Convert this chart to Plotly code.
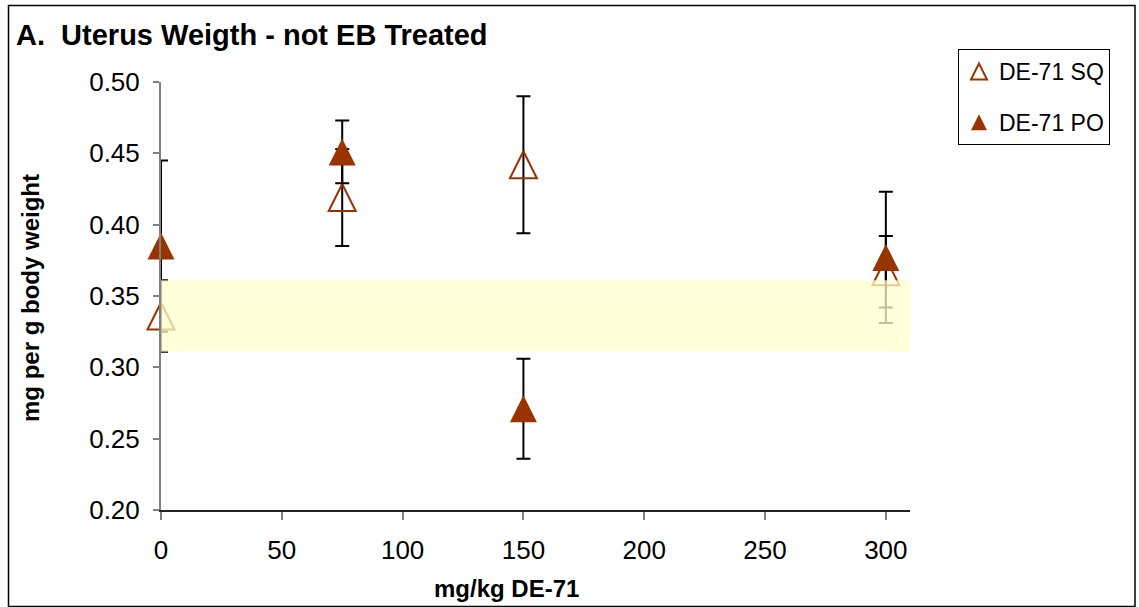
import plotly.graph_objects as go

# ---- data ----
doses = [0, 75, 150, 300]
sq_mean = [0.336, 0.419, 0.442, 0.367]
sq_err = [0.025, 0.034, 0.048, 0.025]
po_mean = [0.385, 0.451, 0.271, 0.377]
po_err = [0.060, 0.022, 0.035, 0.046]
series_names = ["DE-71 SQ", "DE-71 PO"]
y_ticks = [0.20, 0.25, 0.30, 0.35, 0.40, 0.45, 0.50]
x_ticks = [0, 50, 100, 150, 200, 250, 300]

# control band = control SQ mean +/- error
band_low = sq_mean[0] - sq_err[0]
band_high = sq_mean[0] + sq_err[0]

W, H = 1139, 607
L, R, T, B = 161, 229, 82, 97
PW, PH = W - L - R, H - T - B

def px(x):
    return (x - L) / PW

def py(y):
    return (H - B - y) / PH

FONT = "Arial, Liberation Sans, sans-serif"
BROWN = "#993300"
MS = 27          # marker size (px)
LMS = 16         # legend marker size (px)

fig = go.Figure()
# upward triangles centred on the data point (arrow-down rotated 180deg, offset by half size)
fig.add_trace(go.Scatter(
    x=doses, y=sq_mean, mode="markers", name=series_names[0],
    showlegend=False,
    marker=dict(symbol="arrow-down-open", size=MS, color=BROWN, angle=180,
                line=dict(width=2, color=BROWN), standoff=MS / 2),
    error_y=dict(type="data", array=sq_err, visible=True,
                 color="black", thickness=2, width=7),
    cliponaxis=False,
))
fig.add_trace(go.Scatter(
    x=doses, y=po_mean, mode="markers", name=series_names[1],
    showlegend=False,
    marker=dict(symbol="arrow-down", size=MS, color=BROWN, angle=180,
                line=dict(width=0), standoff=MS / 2),
    error_y=dict(type="data", array=po_err, visible=True,
                 color="black", thickness=2, width=7),
    cliponaxis=False,
))
# legend entries
fig.add_trace(go.Scatter(
    x=[None], y=[None], mode="markers", name=series_names[0], legendgroup="a",
    marker=dict(symbol="arrow-up-open", size=LMS, color=BROWN,
                line=dict(width=2, color=BROWN), standoff=LMS / 2),
))
fig.add_trace(go.Scatter(
    x=[None], y=[None], mode="markers", name=series_names[1], legendgroup="b",
    marker=dict(symbol="arrow-up", size=LMS, color=BROWN,
                line=dict(width=0), standoff=LMS / 2),
))

shapes = [
    dict(type="rect", xref="x", yref="y", x0=0, x1=310,
         y0=band_low, y1=band_high, fillcolor="#FFFFCC", opacity=0.75,
         line=dict(width=0), layer="above"),
    dict(type="rect", xref="paper", yref="paper",
         x0=px(8.5), x1=px(1135), y0=py(5.5), y1=py(606.5),
         line=dict(color="black", width=1.5), fillcolor="rgba(0,0,0,0)",
         layer="below"),
]

annotations = [
    dict(text="<b>A.  Uterus Weigth - not EB Treated</b>", xref="paper", yref="paper",
         x=px(14), y=py(35), xanchor="left", yanchor="middle", showarrow=False,
         font=dict(family=FONT, size=29, color="black")),
    dict(text="<b>mg per g body weight</b>", xref="paper", yref="paper",
         x=px(30), y=py(298), xanchor="center", yanchor="middle", showarrow=False,
         textangle=-90, font=dict(family=FONT, size=24, color="black")),
    dict(text="<b>mg/kg DE-71</b>", xref="paper", yref="paper",
         x=px(506), y=py(588), xanchor="center", yanchor="middle", showarrow=False,
         font=dict(family=FONT, size=24, color="black")),
]

fig.update_layout(
    width=W, height=H,
    margin=dict(l=L, r=R, t=T, b=B, pad=0),
    paper_bgcolor="white", plot_bgcolor="white",
    shapes=shapes, annotations=annotations,
    showlegend=True,
    legend=dict(x=px(958), y=py(49), xanchor="left", yanchor="top",
                bordercolor="black", borderwidth=1, bgcolor="white",
                font=dict(family=FONT, size=23, color="black"),
                traceorder="grouped", tracegroupgap=18, itemwidth=30,
                itemsizing="trace"),
    xaxis=dict(range=[0, 310], tickmode="array", tickvals=x_ticks,
               ticktext=[str(v) for v in x_ticks],
               showgrid=False, zeroline=False, showline=True,
               linecolor="#222222", linewidth=1.5,
               ticks="outside", ticklen=8, tickwidth=2, tickcolor="#808080",
               tickfont=dict(family=FONT, size=26, color="black"),
               ticklabelstandoff=8),
    yaxis=dict(range=[0.20, 0.50], tickmode="array", tickvals=y_ticks,
               ticktext=[f"{v:.2f}" for v in y_ticks],
               showgrid=False, zeroline=False, showline=True,
               linecolor="#808080", linewidth=2,
               ticks="outside", ticklen=6, tickwidth=2, tickcolor="#808080",
               tickfont=dict(family=FONT, size=26, color="black"),
               ticklabelstandoff=8),
)

fig.write_html("out.html")
